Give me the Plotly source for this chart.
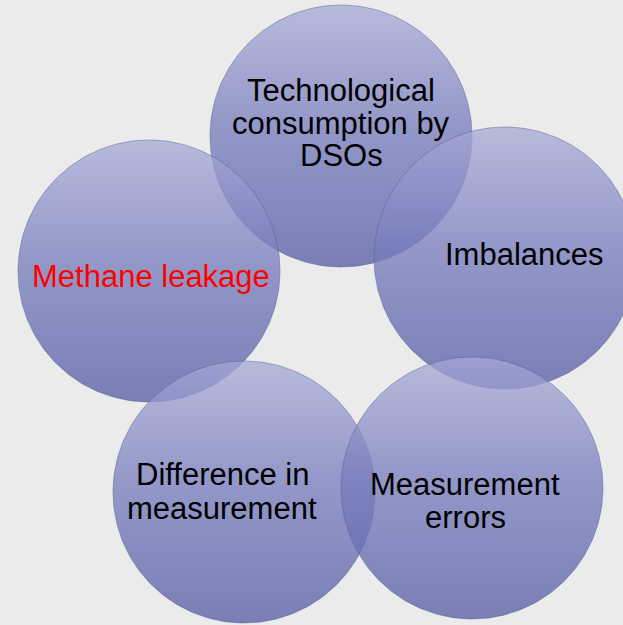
import numpy as np
import plotly.graph_objects as go

W, H = 623, 625

# Categories (one per bubble)
categories = ["Technological consumption by DSOs", "Imbalances", "Methane leakage",
              "Difference in measurement", "Measurement errors"]
# Label lines as shown in each bubble
label_lines = [["Technological", "consumption by", "DSOs"],
               ["Imbalances"],
               ["Methane leakage"],
               ["Difference in", "measurement"],
               ["Measurement", "errors"]]
label_colors = ["#000000", "#000000", "#ff0000", "#000000", "#000000"]

# Layout (pixel space, y measured from top)
centers_x = [341, 505, 149, 244, 472]
centers_y = [136, 258, 271, 492, 488]
radius = 131
text_x = [341, 524, 151, 222, 465]
text_baselines = [[101, 134, 166.5], [265.5], [287], [485, 519], [495.5, 528]]
font_size = 31

fig = go.Figure()
t = np.linspace(0, 2 * np.pi, 241)
for i in range(len(categories)):
    cx, cy = centers_x[i], H - centers_y[i]
    xs = cx + radius * np.cos(t)
    ys = cy + radius * np.sin(t)
    fig.add_trace(go.Scatter(
        x=xs, y=ys, mode="lines", fill="toself",
        line=dict(color="rgba(85,90,140,0.45)", width=1),
        fillgradient=dict(type="vertical", start=cy - radius, stop=cy + radius,
                          colorscale=[[0, "rgba(92,100,168,0.80)"],
                                      [0.55, "rgba(120,126,190,0.76)"],
                                      [1, "rgba(166,168,214,0.74)"]]),
        hoverinfo="skip", showlegend=False, name=categories[i]))

annotations = []
for i, lines in enumerate(label_lines):
    for line, base in zip(lines, text_baselines[i]):
        annotations.append(dict(
            x=text_x[i], y=H - (base - 10.7), xref="x", yref="y",
            text=line, showarrow=False, xanchor="center", yanchor="middle",
            font=dict(family="Liberation Sans, Arial, sans-serif", size=font_size,
                      color=label_colors[i])))

fig.update_layout(
    width=W, height=H, margin=dict(l=0, r=0, t=0, b=0),
    paper_bgcolor="#ebebeb", plot_bgcolor="#ebebeb",
    xaxis=dict(range=[0, W], visible=False, fixedrange=True),
    yaxis=dict(range=[0, H], visible=False, fixedrange=True),
    annotations=annotations, showlegend=False)

fig.write_html("out.html", config={"displayModeBar": False},
               post_script="document.body.style.margin='0';document.body.style.background='#ebebeb';")
